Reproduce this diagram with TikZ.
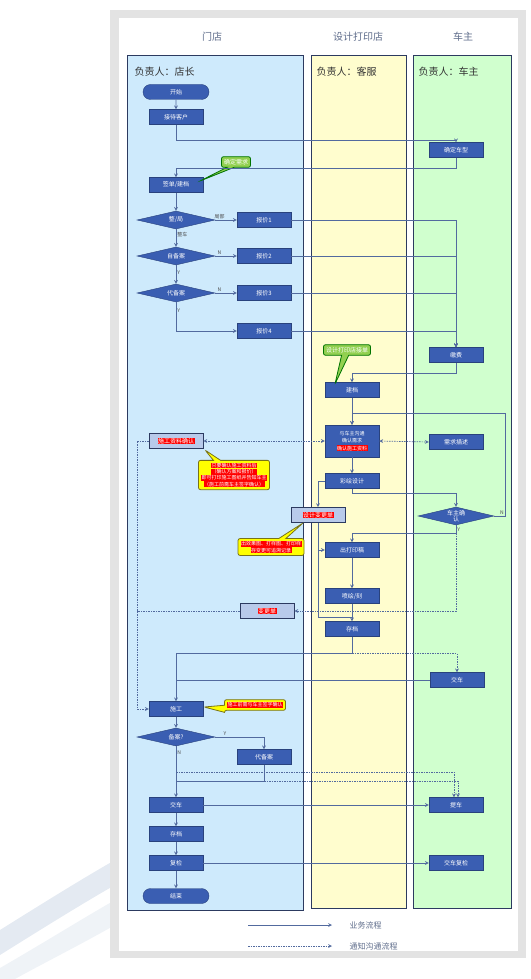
\documentclass[tikz,border=0pt]{standalone}
\usepackage{fontspec}
\setmainfont{Noto Sans CJK SC}
\usepackage{tikz}
\usetikzlibrary{shapes.geometric, shapes.misc, shapes.callouts, positioning}
\definecolor{flowblue}{RGB}{58,94,178}
\definecolor{flowline}{RGB}{82,106,158}
\definecolor{lanenavy}{RGB}{44,58,96}
\definecolor{laneblue}{RGB}{206,234,252}
\definecolor{laneyellow}{RGB}{255,253,206}
\definecolor{lanegreen}{RGB}{208,255,206}
\definecolor{notegreen}{RGB}{146,208,80}
\definecolor{noteyellow}{RGB}{255,255,0}
\definecolor{hlred}{RGB}{255,0,0}
\definecolor{lilac}{RGB}{184,202,234}
\definecolor{headgray}{RGB}{96,110,140}
\definecolor{swoosh}{RGB}{228,234,242}
\newcommand{\hl}[1]{{\setlength{\fboxsep}{0.5pt}\colorbox{hlred}{\textcolor{white}{#1}}}}

\begin{document}
\begin{tikzpicture}[
    x=1pt, y=-1pt,
    proc/.style={rectangle, draw=flowblue!70!black, fill=flowblue, text=white, minimum width=54pt, minimum height=15pt, inner sep=0pt, font=\fontsize{6}{7}\selectfont},
    term/.style={proc, rounded rectangle, minimum width=66pt},
    dec/.style={diamond, aspect=4, draw=flowblue!70!black, fill=flowblue, text=white, minimum width=78pt, minimum height=18pt, inner sep=0pt, font=\fontsize{6}{6.5}\selectfont},
    hlbox/.style={rectangle, draw=lanenavy, fill=lilac, thick, minimum width=54pt, minimum height=15pt, inner sep=0pt, font=\fontsize{6}{7}\selectfont},
    gnote/.style={rectangle callout, rounded corners=2pt, draw=green!45!black, fill=notegreen, text=white, thick, inner sep=2.5pt, font=\fontsize{6}{7}\selectfont},
    ynote/.style={rectangle callout, rounded corners=2pt, draw=olive!80!black, fill=noteyellow, thick, align=center, inner sep=2.5pt, font=\fontsize{5}{6.2}\selectfont},
    flow/.style={->, >=stealth, draw=flowline, line width=0.7pt},
    conn/.style={draw=flowline, line width=0.7pt},
    notify/.style={->, >=stealth, draw=flowline, line width=0.7pt, dash pattern=on 1.5pt off 1pt},
    lane/.style={draw=lanenavy, line width=0.8pt},
    lbl/.style={font=\fontsize{5}{6}\selectfont, text=gray!60!black, inner sep=1pt},
    head/.style={font=\fontsize{10}{12}\selectfont, text=headgray},
    owner/.style={font=\fontsize{10}{12}\selectfont, text=black!80, anchor=west}
]
    \useasboundingbox (0,0) rectangle (530,979);
    % background and frame
    \fill[swoosh] (0,930) .. controls (40,905) and (80,880) .. (115,860) -- (115,885) .. controls (80,905) and (40,930) .. (0,955) -- cycle;
    \fill[swoosh!60] (0,968) .. controls (40,945) and (80,920) .. (115,900) -- (115,925) .. controls (80,945) and (40,965) .. (15,979) -- (0,979) -- cycle;
    \fill[gray!22] (110,10) rectangle (526,958);
    \fill[white] (119,18) rectangle (518,951);

    % swim lanes
    \filldraw[lane, fill=laneblue] (127,55) rectangle (303,910);
    \filldraw[lane, fill=laneyellow] (311,55) rectangle (406,908);
    \filldraw[lane, fill=lanegreen] (413,55) rectangle (511,908);
    \node[head] (h1) at (212,37) {门店};
    \node[head] (h2) at (358,37) {设计打印店};
    \node[head] (h3) at (463,37) {车主};
    \node[owner] (o1) at (131,72) {负责人：店长};
    \node[owner] (o2) at (313,72) {负责人：客服};
    \node[owner] (o3) at (415,72) {负责人：车主};

    % reception and quote
    \node[term] (start) at (176,92) {开始};
    \node[proc] (recv) at (176,117) {接待客户};
    \node[proc] (model) at (456,150) {确定车型};
    \node[proc] (sign) at (176,185) {签单/建档};
    \node[gnote, callout absolute pointer={(200,181)}] (need) at (236,162) {确定需求};
    \node[dec] (d1) at (176,220) {整/局};
    \node[proc] (q1) at (264,220) {报价1};
    \node[dec] (d2) at (176,256) {自备案};
    \node[proc] (q2) at (264,256) {报价2};
    \node[dec] (d3) at (176,293) {代备案};
    \node[proc] (q3) at (264,293) {报价3};
    \node[proc] (q4) at (264,331) {报价4};
    \node[proc] (pay) at (456,355) {缴费};

    \draw[flow] (start) -- (recv);
    \draw[flow] (recv.south) -- ++(0,16) -| (model.north);
    \draw[flow] (model.south) -- ++(0,11) -| (sign.north);
    \draw[flow] (sign) -- (d1);
    \draw[flow] (d1.east) -- node[lbl, above, pos=0.2] {局部} (q1.west);
    \draw[flow] (d1) -- node[lbl, right, pos=0.3] {整车} (d2);
    \draw[flow] (d2.east) -- node[lbl, above, pos=0.2] {N} (q2.west);
    \draw[flow] (d2) -- node[lbl, right, pos=0.4] {Y} (d3);
    \draw[flow] (d3.east) -- node[lbl, above, pos=0.2] {N} (q3.west);
    \draw[flow] (d3.south) |- node[lbl, right, pos=0.15] {Y} (q4.west);
    \draw[flow] (q1.east) -| (pay.north);
    \draw[flow] (q2.east) -| (pay.north);
    \draw[flow] (q3.east) -| (pay.north);
    \draw[flow] (q4.east) -| (pay.north);

    % design and print shop
    \node[proc] (file) at (352,390) {建档};
    \node[gnote, callout absolute pointer={(335,384)}] (take) at (347,350) {设计打印店接单};
    \node[proc, minimum height=32pt, align=center, font=\fontsize{5}{7.5}\selectfont] (talk) at (352,441) {与车主沟通\\确认需求\\\hl{确认施工资料}};
    \node[proc] (desc) at (456,442) {需求描述};
    \node[hlbox] (check) at (176,441) {\hl{施工资料确认}};
    \node[ynote, callout absolute pointer={(205,450)}] (tip1) at (234,475) {\hl{只要确认施工资料后}\\\hl{（确认方案和报价）}\\\hl{即可打印施工图纸并告知车主}\\\hl{（施工前需车主签字确认）}};
    \node[proc] (paint) at (352,481) {彩绘设计};
    \node[dec, minimum width=76pt, align=center] (ok) at (456,516) {车主确\\认};
    \node[hlbox] (chg) at (318,515) {\hl{设计变更单}};
    \node[ynote, callout absolute pointer={(303,523)}] (tip2) at (271,547) {\hl{出效果图、打样图、打印样}\\\hl{存变更可追溯记录}};
    \node[proc] (print) at (352,550) {出打印稿};
    \node[proc] (cut) at (352,596) {喷绘/刻};
    \node[proc] (keep) at (352,629) {存档};
    \node[hlbox] (order) at (267,611) {\hl{变更单}};
    \coordinate (rail) at (137,441);
    \coordinate (loopin) at (352,413);
    \coordinate (merge) at (352,617);

    \draw[flow] (pay.south) -- ++(0,11) -| (file.north);
    \draw[flow] (file) -- (talk);
    \draw[flow] (ok.east) -- node[lbl, above, pos=0.7] {N} ++(11,0) |- (loopin) -- (talk.north);
    \draw[notify, <->] (talk.east) -- (desc.west);
    \draw[notify, <->] (check.east) -- (talk.west);
    \draw[flow] (talk) -- (paint);
    \draw[flow] (paint.south) -- ++(0,5) -| (ok.north);
    \draw[flow] (paint.west) -| (chg.north);
    \draw[conn] (chg.south) |- (merge);
    \draw[flow] (chg.south |- print.west) -- (print.west);
    \draw[flow] (ok.south) -- node[lbl, right, pos=0.5] {Y} ++(0,8) -| (print.north);
    \draw[notify] (ok.south) ++(0,8) |- (order.east);
    \draw[flow] (print) -- (cut);
    \draw[flow] (cut) -- (keep);

    % construction and delivery
    \node[proc] (hand) at (457,680) {交车};
    \node[proc] (work) at (176,709) {施工};
    \node[ynote, callout absolute pointer={(204,707)}] (tip3) at (255,705) {\hl{施工前需与车主签字确认}};
    \node[dec] (d4) at (176,737) {备案?};
    \node[proc] (agent) at (264,757) {代备案};
    \node[proc] (deliver) at (176,805) {交车};
    \node[proc] (pick) at (456,805) {提车};
    \node[proc] (arch) at (176,834) {存档};
    \node[proc] (recheck) at (176,863) {复检};
    \node[proc] (ownchk) at (456,863) {交车复检};
    \node[term] (stop) at (176,896) {结束};

    \draw[notify] (check.west) -- (rail) |- (work.west);
    \draw[notify, -] (order.west) -- (order.west -| rail);
    \draw[flow] (keep.south) -- ++(0,17) -| (work.north);
    \draw[notify] (keep.south) ++(0,17) -| (hand.north);
    \draw[conn] (hand.west) -- (hand.west -| work);
    \draw[flow] (work) -- (d4);
    \draw[flow] (d4.east) -| node[lbl, above, pos=0.1] {Y} (agent.north);
    \draw[flow] (d4.south) -- node[lbl, right, pos=0.12] {N} (deliver.north);
    \draw[conn] (agent.south) -- ++(0,17) -- ++(-88,0);
    \draw[notify] (d4.south) ++(0,26) -| ([xshift=-2pt]pick.north);
    \draw[notify] (agent.south) ++(0,17) -| ([xshift=2pt]pick.north);
    \draw[flow] (deliver) -- (pick);
    \draw[flow] (deliver) -- (arch);
    \draw[flow] (arch) -- (recheck);
    \draw[flow] (recheck) -- (ownchk);
    \draw[flow] (recheck) -- (stop);

    % legend
    \coordinate (k1) at (248,925);
    \coordinate (k2) at (248,946);
    \node[head, font=\fontsize{8}{9}\selectfont, anchor=west] (k1t) at (346,925) {业务流程};
    \node[head, font=\fontsize{8}{9}\selectfont, anchor=west] (k2t) at (346,946) {通知沟通流程};
    \draw[flow] (k1) -- ++(84,0);
    \draw[notify] (k2) -- ++(84,0);
\end{tikzpicture}
\end{document}
